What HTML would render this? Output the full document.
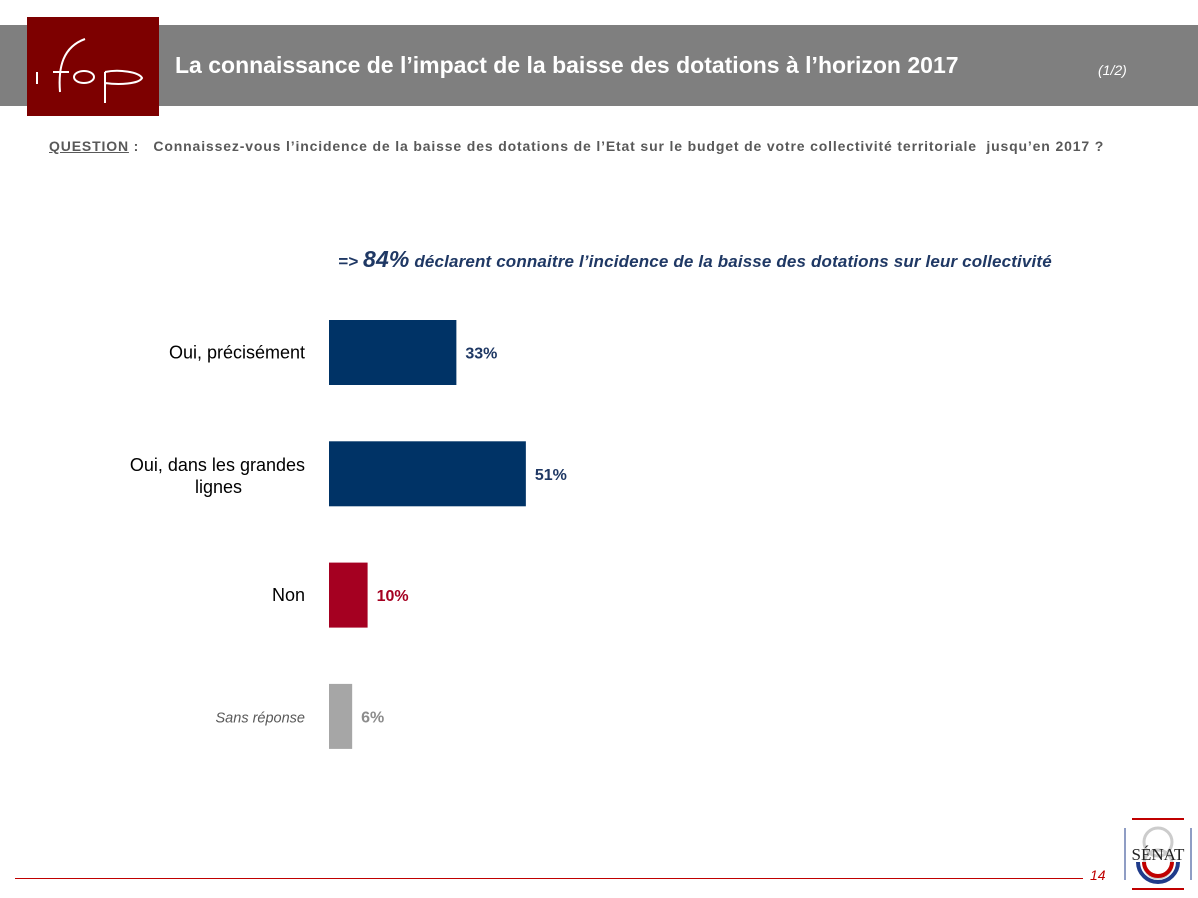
<!DOCTYPE html>
<html><head><meta charset="utf-8">
<style>
body{margin:0;width:1198px;height:898px;background:#fff;position:relative;overflow:hidden;font-family:"Liberation Sans",sans-serif;}
.abs{position:absolute;}
</style></head>
<body>
<div class="abs" style="left:0;top:25px;width:1198px;height:81px;background:#7f7f7f;"></div>
<div class="abs" style="left:27px;top:17px;width:132px;height:99px;background:#7d0000;">
<svg width="132" height="99">
<g stroke="#fff" stroke-width="2" fill="none">
<line x1="10" y1="55" x2="10" y2="67"/>
<path d="M33 75 C31 50 36 30 58 22"/>
<line x1="26" y1="55" x2="42" y2="55"/>
<ellipse cx="57" cy="60" rx="10" ry="6"/>
<path d="M78 55 L78 86 M78 55 C92 52 112 55 115 61 C112 67 92 68 78 66"/>
</g></svg>
</div>
<div class="abs" style="left:175px;top:52px;color:#fff;font-weight:bold;font-size:23px;white-space:nowrap;">La connaissance de l’impact de la baisse des dotations à l’horizon 2017</div>
<div class="abs" style="left:1098px;top:62px;color:#fff;font-style:italic;font-size:14px;">(1/2)</div>
<div class="abs" style="left:49px;top:138px;color:#595959;font-weight:bold;font-size:14px;letter-spacing:0.85px;white-space:nowrap;"><span style="text-decoration:underline">QUESTION</span> :&nbsp;&nbsp; Connaissez-vous l’incidence de la baisse des dotations de l’Etat sur le budget de votre collectivité territoriale&nbsp; jusqu’en 2017 ?</div>
<div class="abs" style="left:338px;top:246px;color:#1f3864;font-weight:bold;font-style:italic;font-size:17px;letter-spacing:0.15px;white-space:nowrap;">=&gt; <span style="font-size:23px">84%</span> déclarent connaitre l’incidence de la baisse des dotations sur leur collectivité</div>
<svg id="chart" class="abs" style="left:0;top:0" width="1198" height="898"></svg>
<div class="abs" style="left:15px;top:878px;width:1068px;height:1px;background:#c00000;"></div>
<div class="abs" style="left:1090px;top:867px;color:#c00000;font-style:italic;font-size:14px;">14</div>
<div class="abs" style="left:1124px;top:818px;width:68px;height:72px;">
<svg width="68" height="72">
<line x1="8" y1="1" x2="60" y2="1" stroke="#c00000" stroke-width="2"/>
<line x1="8" y1="71" x2="60" y2="71" stroke="#c00000" stroke-width="2"/>
<line x1="1" y1="10" x2="1" y2="62" stroke="#1f3b8a"/>
<line x1="67" y1="10" x2="67" y2="62" stroke="#1f3b8a"/>
<circle cx="34" cy="24" r="14" fill="none" stroke="#ccc" stroke-width="3"/>
<circle cx="34" cy="46" r="14" fill="none" stroke="#ccc" stroke-width="3"/>
<path d="M14 44 A20 20 0 0 0 54 44" fill="none" stroke="#1f3b8a" stroke-width="4"/>
<path d="M20 44 A14 14 0 0 0 48 44" fill="none" stroke="#c00000" stroke-width="4"/>
<text x="34" y="42" font-family="Liberation Serif,serif" font-size="17" text-anchor="middle" fill="#222">SÉNAT</text>
</svg></div>
<script>
const categories=["Oui, précisément","Oui, dans les grandes lignes","Non","Sans réponse"];
const values=[33,51,10,6];
const colors=["#003366","#003366","#a50021","#a6a6a6"];
const labelColors=["#1f3864","#1f3864","#a50021","#8c8c8c"];
const svg=document.getElementById('chart');
const NS="http://www.w3.org/2000/svg";
const x0=329, pxPer=3.86, y0=320, step=121.3, bh=65;
function xs(v){return v*pxPer;}
function ys(i){return y0+i*step;}
categories.forEach((c,i)=>{
  const r=document.createElementNS(NS,'rect');
  r.setAttribute('x',x0);r.setAttribute('y',ys(i));
  r.setAttribute('width',xs(values[i]));r.setAttribute('height',bh);
  r.setAttribute('fill',colors[i]);
  
  
  svg.appendChild(r);
  const t=document.createElementNS(NS,'text');
  t.setAttribute('x',x0+xs(values[i])+9);t.setAttribute('y',ys(i)+bh/2+6);
  t.setAttribute('font-size','16');t.setAttribute('font-weight','bold');
  t.setAttribute('fill',labelColors[i]);
  t.textContent=values[i]+'%';
  
  
  svg.appendChild(t);
  const l=document.createElementNS(NS,'text');
  l.setAttribute('text-anchor','end');
  l.setAttribute('font-size',i==3?'14.5':'18');
  l.setAttribute('fill',i==3?'#595959':'#000');
  if(i==3)l.setAttribute('font-style','italic');
  
  
  if(i==1){
    const a=document.createElementNS(NS,'tspan');a.setAttribute('x',305);a.setAttribute('y',ys(i)+bh/2-3);a.textContent="Oui, dans les grandes";
    const b=document.createElementNS(NS,'tspan');b.setAttribute('x',242);b.setAttribute('y',ys(i)+bh/2+19);b.textContent="lignes";
    l.appendChild(a);l.appendChild(b);
  } else {
    l.setAttribute('x',305);l.setAttribute('y',ys(i)+bh/2+6);l.textContent=c;
  }
  svg.appendChild(l);
});
</script>
</body></html>
